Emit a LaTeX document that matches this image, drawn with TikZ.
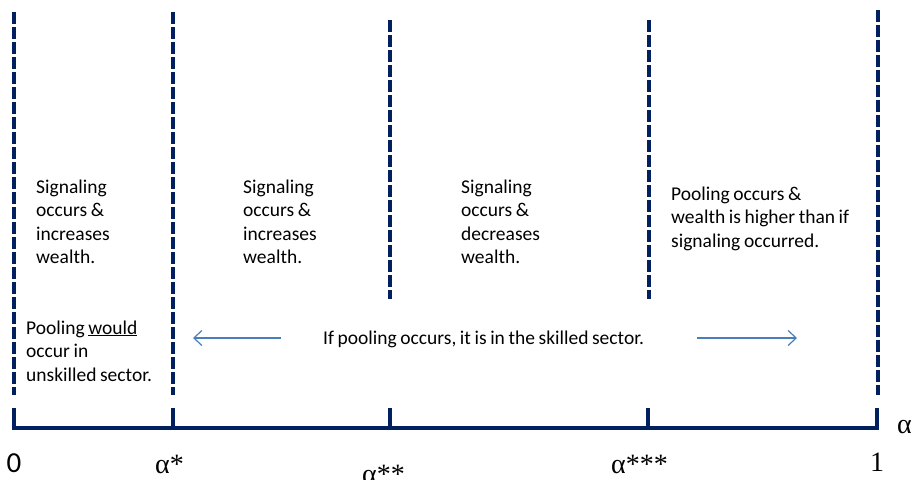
\documentclass[tikz,border=0pt]{standalone}
\usepackage{fontspec}
\setmainfont{Carlito}
\newfontfamily\timesfont{Liberation Serif}
\usetikzlibrary{arrows.meta}
\definecolor{navy}{HTML}{002060}
\definecolor{arrowblue}{HTML}{4A7EBB}
\newcommand{\bodyfont}{\fontsize{19.5}{23.5}\selectfont\spaceskip=3.6pt plus 1pt minus 0.5pt\relax}
\newcommand{\colltext}[1]{\begin{tabular}[t]{@{}l@{}}#1\end{tabular}}
\begin{document}
\begin{tikzpicture}[x=1pt,y=-1pt,
  divider/.style={draw=navy,line width=3.3pt,dash pattern=on 11.5pt off 3.5pt},
  axisline/.style={draw=navy,line width=3.6pt},
  tickline/.style={draw=navy,line width=3.3pt},
  body/.style={inner sep=0pt,anchor=base west,font=\bodyfont},
  lbl/.style={inner sep=0pt,anchor=base,font=\timesfont\fontsize{28}{32}\selectfont},
  pointer/.style={draw=arrowblue,line width=1.2pt,-{Straight Barb[length=8pt,width=15pt,line width=1.2pt]}}]
\useasboundingbox (0,0) rectangle (917,479);
% dashed dividers
\coordinate (d0t) at (14,12);   \coordinate (d0b) at (14,395);
\coordinate (d1t) at (173,12);  \coordinate (d1b) at (173,395);
\coordinate (d2t) at (390,20);  \coordinate (d2b) at (390,299);
\coordinate (d3t) at (649,20);  \coordinate (d3b) at (649,299);
\coordinate (d4t) at (878,10);  \coordinate (d4b) at (878,395);
\draw[divider] (d0t) -- (d0b);
\draw[divider] (d1t) -- (d1b);
\draw[divider] (d2t) -- (d2b);
\draw[divider] (d3t) -- (d3b);
\draw[divider] (d4t) -- (d4b);
% axis
\coordinate (a0) at (14,428); \coordinate (a1) at (173,428); \coordinate (a2) at (390,428);
\coordinate (a3) at (648,428); \coordinate (a4) at (877,428);
\draw[axisline] ([xshift=-1.6pt]a0) -- ([xshift=1.6pt]a4);
\foreach \p in {a0,a1,a2,a3,a4}{\draw[tickline] (\p) -- ++(0,-20);}
% texts
\node[body] (t1) at (36,193) {\colltext{Signaling\\occurs \&\\increases\\wealth.}};
\node[body] (t2) at (243,193) {\colltext{Signaling\\occurs \&\\increases\\wealth.}};
\node[body] (t3) at (461,193) {\colltext{Signaling\\occurs \&\\decreases\\wealth.}};
\node[body] (t4) at (671,200) {\colltext{Pooling occurs \&\\wealth is higher than if\\signaling occurred.}};
\node[body] (t5) at (26,334) {\colltext{Pooling \underline{would}\\occur in\\unskilled sector.}};
\node[body] (mid) at (323,344) {If pooling occurs, it is in the skilled sector.};
\coordinate (la) at (281,338); \coordinate (lb) at (193,338);
\coordinate (ra) at (697,338); \coordinate (rb) at (797,338);
\draw[pointer] (la) -- (lb);
\draw[pointer] (ra) -- (rb);
% axis labels
\node[inner sep=0pt,anchor=base,font=\fontsize{29}{32}\selectfont] (l0) at (14,472) {0};
\node[lbl,anchor=base west] (l1) at (155,473) {α*};
\node[lbl,anchor=base west] (l2) at (362,483) {α**};
\node[lbl,anchor=base west] (l3) at (611,473) {α***};
\node[lbl] (l4) at (877,471) {1};
\node[lbl,anchor=base west] (la5) at (897,433) {α};
\end{tikzpicture}
\end{document}
